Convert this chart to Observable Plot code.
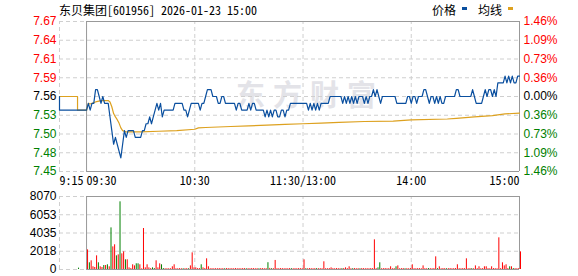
<!DOCTYPE html>
<html><head><meta charset="utf-8">
<script src="https://cdn.jsdelivr.net/npm/d3@7"></script>
<script src="https://cdn.jsdelivr.net/npm/@observablehq/plot@0.6"></script>
<style>
body{margin:0;background:#fff;}
#wrap{position:relative;width:578px;height:276px;overflow:hidden;}
.abs{position:absolute;white-space:nowrap;}
#title{left:59px;top:2px;font-size:12px;line-height:15px;color:#000;font-family:"Noto Sans Mono CJK SC","Noto Sans CJK SC","Liberation Mono",monospace;}
.lg{top:2px;font-size:12px;line-height:15px;color:#000;font-family:"Noto Sans CJK SC",sans-serif;}
.sw{width:5px;height:3px;top:6.5px;}
#wm{left:236px;top:76px;font-size:29px;line-height:34px;letter-spacing:8px;color:#e3e3e8;font-weight:bold;font-family:"Noto Sans CJK SC",sans-serif;}
</style></head><body>
<div id="wrap">
  <div id="wm" class="abs">东方财富</div>
  <div id="title" class="abs"></div>
  <div id="lg1" class="abs lg" style="left:432px"></div>
  <div id="sw1" class="abs sw" style="left:462px"></div>
  <div id="lg2" class="abs lg" style="left:478px"></div>
  <div id="sw2" class="abs sw" style="left:508px"></div>
  <div id="price" class="abs" style="left:0;top:0"></div>
  <div id="vol" class="abs" style="left:0;top:186px"></div>
</div>
<script>
// ---------- data ----------
const titleText = "东贝集团[601956] 2026-01-23 15:00";
const legendNames = ["价格", "均线"];
const prevClose = 7.56;
const priceDomain = [7.45, 7.67];
const priceTickLabels = ["7.45","7.48","7.50","7.53","7.56","7.59","7.61","7.64","7.67"];
const pctTickLabels = ["1.46%","1.09%","0.73%","0.36%","0.00%","0.36%","0.73%","1.09%","1.46%"];
const volMax = 8070;
const volTickLabels = ["0","2018","4035","6053","8070"];
const timeTicks = [-15, 0, 60, 120, 180, 240];
const timeTickLabels = ["9:15","09:30","10:30","11:30/13:00","14:00","15:00"];

// pre-market (minutes relative to 09:30)
const preMinutes = [-15, -15, 0];
const prePrice = [7.56, 7.54, 7.54];
const preAvgMinutes = [-15, -5, -5, 0];
const preAvg = [7.56, 7.56, 7.54, 7.54];
const preVolMinutes = [-5];
const preVolume = [150];
const preVolDir = ["down"];

// per-minute price, 09:30 .. 15:00 (index = minute of session)
const price = [
7.54,7.55,7.54,7.55,7.55,7.57,7.57,7.56,7.55,7.56,
7.55,7.55,7.55,7.53,7.51,7.49,7.50,7.49,7.48,7.47,
7.49,7.51,7.50,7.51,7.51,7.51,7.51,7.50,7.50,7.50,
7.50,7.51,7.51,7.52,7.52,7.53,7.52,7.53,7.54,7.55,
7.54,7.55,7.53,7.54,7.54,7.54,7.54,7.54,7.54,7.55,
7.55,7.55,7.55,7.55,7.54,7.54,7.53,7.54,7.55,7.55,
7.55,7.55,7.55,7.54,7.55,7.55,7.56,7.57,7.57,7.57,
7.56,7.56,7.56,7.55,7.55,7.56,7.56,7.55,7.55,7.55,
7.55,7.55,7.55,7.54,7.55,7.55,7.54,7.54,7.54,7.54,
7.55,7.54,7.55,7.55,7.54,7.54,7.54,7.54,7.54,7.53,
7.54,7.53,7.54,7.53,7.54,7.54,7.53,7.53,7.54,7.54,
7.53,7.54,7.54,7.55,7.55,7.55,7.55,7.55,7.55,7.55,
7.55,7.55,7.55,7.54,7.55,7.54,7.55,7.54,7.55,7.54,
7.55,7.55,7.55,7.55,7.55,7.56,7.56,7.56,7.56,7.56,
7.56,7.56,7.55,7.56,7.55,7.56,7.55,7.56,7.55,7.56,
7.55,7.56,7.56,7.56,7.55,7.56,7.55,7.56,7.56,7.57,
7.56,7.57,7.56,7.55,7.56,7.56,7.56,7.56,7.56,7.56,
7.56,7.56,7.55,7.55,7.55,7.55,7.55,7.55,7.56,7.56,
7.55,7.56,7.56,7.55,7.56,7.56,7.56,7.57,7.57,7.56,
7.55,7.56,7.56,7.55,7.56,7.55,7.56,7.55,7.55,7.56,
7.56,7.56,7.56,7.56,7.56,7.57,7.57,7.56,7.56,7.56,
7.56,7.56,7.56,7.56,7.57,7.56,7.55,7.55,7.55,7.55,
7.56,7.57,7.56,7.57,7.57,7.56,7.57,7.56,7.58,7.58,
7.58,7.58,7.59,7.58,7.59,7.58,7.59,7.58,7.58,7.59,
7.59];

// average price line, read at sample minutes
const avgMinutes = [0,1,2,5,8,12,13,14,15,16,17,18,19,20,22,30,40,50,60,62,66,80,90,100,110,120,130,140,154,170,180,200,205,215,225,228,232,240];
const avgValues  = [7.540,7.550,7.549,7.552,7.554,7.554,7.552,7.545,7.535,7.530,7.526,7.521,7.514,7.510,7.508,7.508,7.509,7.510,7.512,7.514,7.5145,7.516,7.517,7.518,7.519,7.520,7.521,7.522,7.5233,7.524,7.5256,7.527,7.528,7.530,7.532,7.533,7.5345,7.5355];

// per-minute volume (lots)
const volume = [
2170,740,960,300,220,1510,740,300,220,440,
440,520,300,4600,2500,2730,1510,1620,7480,1730,
1950,1070,1070,180,100,520,400,630,630,520,
70,4530,180,520,180,100,180,100,960,180,
630,520,100,80,80,80,80,300,520,80,
80,90,80,80,80,90,80,400,1840,180,
180,100,100,520,180,100,1180,300,80,90,
80,90,80,100,80,90,80,100,90,80,
90,80,100,80,90,80,100,90,80,90,
80,100,90,80,90,80,100,90,80,90,
750,120,80,90,1000,90,80,100,90,80,
90,80,100,90,80,90,80,100,90,80,
1070,90,80,100,90,80,90,100,80,90,
80,850,90,80,100,180,90,80,100,90,
80,90,100,180,90,300,80,90,100,80,
90,80,100,90,80,90,80,100,90,3280,
90,180,740,80,90,100,80,90,300,80,
90,300,400,80,90,100,80,90,80,100,
520,90,80,100,90,80,400,90,80,100,
90,80,100,1400,90,300,80,100,90,80,
90,100,80,90,100,520,90,80,100,90,
1180,80,100,90,80,400,90,300,80,90,
300,300,90,80,300,100,90,80,3500,90,
740,400,520,100,300,300,100,90,80,90,
1950];
// minutes whose volume bar is green (price down)
const downMinutes = [1,6,9,11,13,16,18,21,27,28,36,37,41,42,53,56,63,76,88,95,100,102,113,121,127,141,147,151,161,162,171,176,189,194,199,213,234,236];

// ---------- styles ----------
const RED = "#ff0000", GREEN = "#008000", BLUE = "#0a4f9f", ORANGE = "#dda11f";
const GRID = {stroke: "#cfcfcf", strokeDasharray: "4,3", strokeWidth: 1};
const FRAME = "#999999";
const numFont = "'Liberation Sans', Arial, sans-serif";
const monoFont = "'Noto Sans Mono CJK SC','Liberation Mono',monospace";

document.getElementById("title").textContent = titleText;
document.getElementById("lg1").textContent = legendNames[0];
document.getElementById("lg2").textContent = legendNames[1];
document.getElementById("sw1").style.background = BLUE;
document.getElementById("sw2").style.background = ORANGE;

// ---------- tables ----------
const priceData = price.map((p, m) => ({m, p}));
const preData = preMinutes.map((m, i) => ({m, p: prePrice[i]}));
const preAvgData = preAvgMinutes.map((m, i) => ({m, p: preAvg[i]}));
const avgData = avgMinutes.map((m, i) => ({m, p: avgValues[i]}));
const downSet = new Set(downMinutes);
const volData = volume.map((v, m) => ({m, v, dir: downSet.has(m) ? "down" : "up"}))
  .concat(preVolMinutes.map((m, i) => ({m, v: preVolume[i], dir: preVolDir[i]})));

const nP = priceTickLabels.length - 1;
const priceTickPos = priceTickLabels.map((_, i) => priceDomain[0] + i * (priceDomain[1] - priceDomain[0]) / nP);
const nV = volTickLabels.length - 1;
const volTickPos = volTickLabels.map((_, i) => i * volMax / nV);
const midIndex = priceTickLabels.indexOf(prevClose.toFixed(2));
const tickColor = i => i < midIndex ? GREEN : i > midIndex ? RED : "#000";

function coloredAxis(anchor, pos, labels, padding) {
  const groups = new Map();
  pos.forEach((p, i) => {
    const c = tickColor(i);
    if (!groups.has(c)) groups.set(c, []);
    groups.get(c).push(p);
  });
  return [...groups].map(([c, ticks]) => Plot.axisY(ticks, {
    anchor, tickSize: 0, tickPadding: padding, label: null,
    tickFormat: d => labels[pos.indexOf(d)],
    fill: c, fontSize: 12, fontFamily: numFont
  }));
}
const timeLabel = d => timeTickLabels[timeTicks.indexOf(d)];
const xAxisOpts = {tickSize: 0, tickPadding: 5, label: null, tickFormat: timeLabel, fontSize: 12, fontFamily: monoFont, fill: "#000"};

const sessionStart = timeTicks[1], sessionEnd = timeTicks[timeTicks.length - 1], preStart = timeTicks[0];
const vLines = [preStart, 60, 120, 180];

const pricePlot = Plot.plot({
  width: 578, height: 190,
  marginLeft: 59, marginRight: 59, marginTop: 21, marginBottom: 19,
  style: {background: "transparent", overflow: "visible"},
  x: {domain: [preStart, sessionEnd], label: null},
  y: {domain: priceDomain, label: null},
  marks: [
    Plot.ruleY(priceTickPos, {x1: preStart, x2: sessionEnd, ...GRID}),
    Plot.ruleX(vLines, {y1: priceDomain[0], y2: priceDomain[1], ...GRID}),
    Plot.ruleY(priceDomain, {x1: sessionStart, x2: sessionEnd, stroke: FRAME}),
    Plot.ruleX([sessionStart, sessionEnd], {y1: priceDomain[0], y2: priceDomain[1], stroke: FRAME}),
    Plot.line(preAvgData, {x: "m", y: "p", stroke: ORANGE, strokeWidth: 1.2}),
    Plot.line(preData, {x: "m", y: "p", stroke: BLUE, strokeWidth: 1.2}),
    Plot.line(avgData, {x: "m", y: "p", stroke: ORANGE, strokeWidth: 1.2}),
    Plot.line(priceData, {x: "m", y: "p", stroke: BLUE, strokeWidth: 1.2}),
    ...coloredAxis("left", priceTickPos, priceTickLabels, 3),
    ...coloredAxis("right", priceTickPos, pctTickLabels, 4),
    Plot.axisX(timeTicks.slice(0, 2), {...xAxisOpts, textAnchor: "start"}),
    Plot.axisX(timeTicks.slice(2, -1), {...xAxisOpts, textAnchor: "middle"}),
    Plot.axisX(timeTicks.slice(-1), {...xAxisOpts, textAnchor: "end"})
  ]
});
document.getElementById("price").appendChild(pricePlot);

const volPlot = Plot.plot({
  width: 578, height: 90,
  marginLeft: 59, marginRight: 59, marginTop: 10, marginBottom: 7,
  style: {background: "transparent", overflow: "visible"},
  x: {domain: [preStart, sessionEnd], label: null, axis: null},
  y: {domain: [0, volMax], label: null},
  color: {domain: ["up", "down"], range: [RED, GREEN]},
  marks: [
    Plot.ruleY(volTickPos, {x1: preStart, x2: sessionEnd, ...GRID}),
    Plot.ruleX(vLines, {y1: 0, y2: volMax, ...GRID}),
    Plot.ruleY([0, volMax], {x1: sessionStart, x2: sessionEnd, stroke: FRAME}),
    Plot.ruleX([sessionStart, sessionEnd], {y1: 0, y2: volMax, stroke: FRAME}),
    Plot.ruleX(volData, {x: "m", y1: 0, y2: "v", stroke: "dir", strokeWidth: 1, dx: 1}),
    Plot.axisY(volTickPos, {anchor: "left", tickSize: 0, tickPadding: 3, label: null,
      tickFormat: d => volTickLabels[volTickPos.indexOf(d)], fill: "#000", fontSize: 12, fontFamily: numFont})
  ]
});
document.getElementById("vol").appendChild(volPlot);
</script>
</body></html>
